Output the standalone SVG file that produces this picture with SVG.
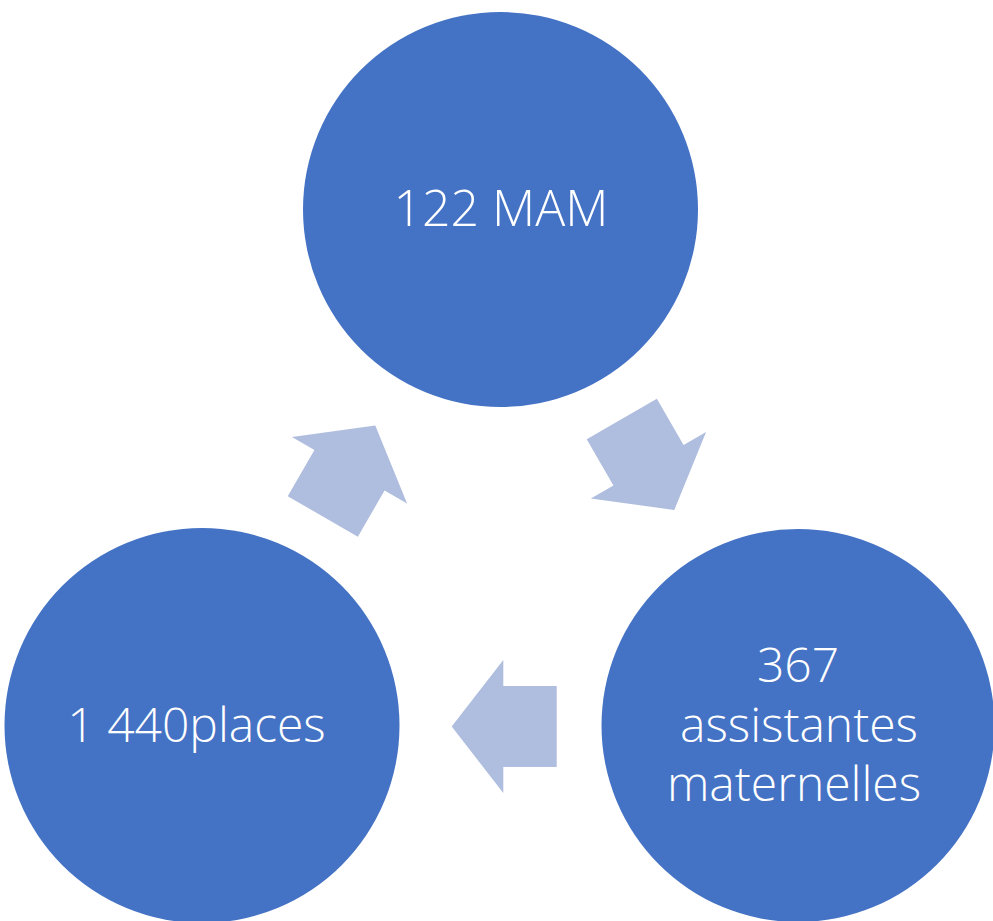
<svg xmlns="http://www.w3.org/2000/svg" width="993" height="921" viewBox="0 0 993 921">
<style>
.node{fill:#4472C4}
.lbl{fill:#FFFFFF;font-family:"Open Sans","Segoe UI","Liberation Sans",sans-serif;font-weight:300;font-size:48px;text-anchor:middle}
.arr{fill:#AFBDDE}
</style>
<defs>
<polygon id="blockArrow" points="53.4,-40.5 0,-40.5 0,-66.5 -51.6,0 0,66.5 0,40.5 53.4,40.5"/>
</defs>
<rect width="993" height="921" fill="#FFFFFF"/>
<g id="connectors">
<use href="#blockArrow" class="arr" transform="translate(648.5,465.3) rotate(240)"/>
<use href="#blockArrow" class="arr" transform="translate(503.3,726.5)"/>
<use href="#blockArrow" class="arr" transform="translate(349.5,470.2) rotate(120)"/>
</g>
<g id="node-mam">
<circle class="node" cx="500.5" cy="209.5" r="197.5"/>
<text class="lbl" x="501" y="226" style="font-size:50px">122 MAM</text>
</g>
<g id="node-assistantes">
<circle class="node" cx="798" cy="725.5" r="196.5"/>
<text class="lbl" x="798" y="681.5">367</text>
<text class="lbl" x="799" y="741.5">assistantes</text>
<text class="lbl" x="794" y="800.5">maternelles</text>
</g>
<g id="node-places">
<circle class="node" cx="202" cy="725.5" r="197.5"/>
<text class="lbl" x="196.5" y="741.5">1 440places</text>
</g>
</svg>
